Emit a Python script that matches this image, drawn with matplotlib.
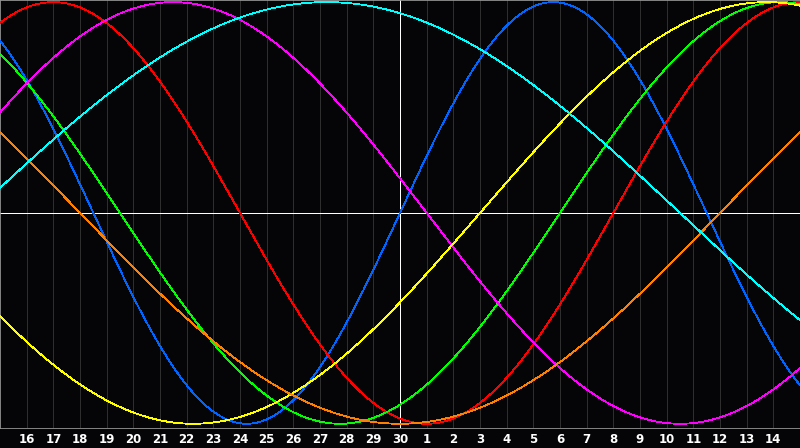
import numpy as np
import matplotlib
matplotlib.use("Agg")
import matplotlib.pyplot as plt

# day labels across the bottom (gridline positions -14 .. 14 around today)
day_labels = [16, 17, 18, 19, 20, 21, 22, 23, 24, 25, 26, 27, 28, 29, 30,
              1, 2, 3, 4, 5, 6, 7, 8, 9, 10, 11, 12, 13, 14]

# biorhythm cycles: length in days, day-in-cycle at the centre date, colour
cycle_names = ["physical", "emotional", "intellectual", "intuitive",
               "aesthetic", "awareness", "spiritual"]
cycle_periods = [23, 28, 33, 38, 43, 48, 53]
cycle_phases = [0, 20, 27, 18, 40, 36, 16]
cycle_colors = ["#0064ff", "#ff0000", "#00ff00", "#ff00ff",
                "#ffff00", "#ff8000", "#00ffff"]

BG = "#050508"
LW = 0.6  # roughly one pixel at dpi 100

fig = plt.figure(figsize=(8, 4.48), dpi=100, facecolor=BG)
ax = fig.add_axes([0, 20 / 448, 1, 428 / 448])
ax.set_facecolor(BG)

t = np.linspace(-15, 15, 1201)
ticks = np.arange(-14, 15)

for x in ticks:
    if x != 0:
        ax.axvline(x, color="#2e2e2e", lw=LW, zorder=1, antialiased=False)

for name, period, phase, color in zip(cycle_names, cycle_periods, cycle_phases, cycle_colors):
    v = np.sin(2 * np.pi * (phase + t) / period)
    ax.plot(t, v, color=color, lw=LW, zorder=3, antialiased=False, label=name)

ax.axhline(0, color="white", lw=LW, zorder=2, antialiased=False)
ax.axvline(0, color="white", lw=LW, zorder=2, antialiased=False)

ax.set_xlim(-15, 15)
ax.set_ylim(-1.02, 1.01)
ax.set_yticks([])
ax.set_xticks(ticks)
ax.set_xticklabels([str(d) for d in day_labels], color="white",
                   fontsize=8.5, fontweight="bold", family="DejaVu Sans")
ax.tick_params(axis="x", length=0, pad=3.5)

for side in ["top", "left", "bottom", "right"]:
    ax.spines[side].set_color("#9a9a9a")
    ax.spines[side].set_linewidth(LW)

fig.savefig("out.png", dpi=100, facecolor=BG)
